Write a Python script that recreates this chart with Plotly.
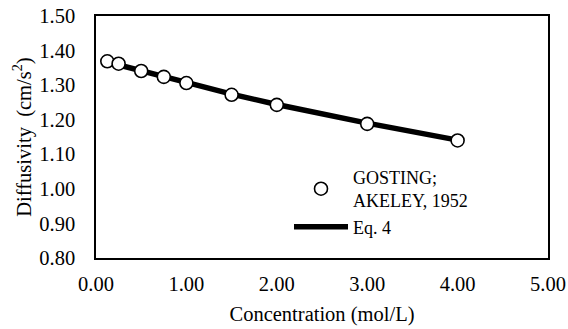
import plotly.graph_objects as go

conc = [0.125, 0.25, 0.5, 0.75, 1.0, 1.5, 2.0, 3.0, 4.0]
diff_exp = [1.369, 1.362, 1.341, 1.324, 1.306, 1.272, 1.243, 1.188, 1.140]
diff_eq4 = [1.367, 1.359, 1.342, 1.325, 1.308, 1.274, 1.244, 1.190, 1.141]

x_ticks = [0, 1, 2, 3, 4, 5]
y_ticks = [0.8, 0.9, 1.0, 1.1, 1.2, 1.3, 1.4, 1.5]

font = "'Times New Roman', 'Liberation Serif', serif"
fsize = 20.5
lsize = 18

fig = go.Figure()
fig.add_trace(go.Scatter(
    x=conc, y=diff_eq4, mode="lines", name="Eq. 4",
    line=dict(color="black", width=5.5),
))
fig.add_trace(go.Scatter(
    x=conc, y=diff_exp, mode="markers", name="GOSTING;<br>AKELEY, 1952",
    marker=dict(symbol="circle", size=13, color="white",
                line=dict(color="black", width=1.6)),
))

fig.update_layout(
    width=568, height=329,
    margin=dict(l=96, r=20, t=16, b=71, autoexpand=False),
    paper_bgcolor="white", plot_bgcolor="white",
    font=dict(family=font, size=fsize, color="black"),
    showlegend=True,
    legend=dict(x=0.427, y=0.41, xanchor="left", yanchor="top",
                traceorder="reversed", bgcolor="rgba(0,0,0,0)",
                font=dict(size=lsize, family=font, color="black"), itemwidth=54,
                tracegroupgap=0),
    xaxis=dict(range=[0, 5], tickvals=x_ticks, automargin=False,
               ticktext=[f"{v:.2f}" for v in x_ticks],
               tickfont=dict(family=font, size=fsize, color="black"),
               showgrid=False, zeroline=False,
               showline=True, linecolor="black", linewidth=1.5, mirror=True,
               ticks="", ticklabelstandoff=7,
               title=dict(text="Concentration (mol/L)", standoff=12,
                          font=dict(family=font, size=fsize, color="black"))),
    yaxis=dict(range=[0.8, 1.5], tickvals=y_ticks, automargin=False,
               ticktext=[f"{v:.2f}" for v in y_ticks],
               tickfont=dict(family=font, size=fsize, color="black"),
               showgrid=False, zeroline=False,
               showline=True, linecolor="black", linewidth=1.5, mirror=True,
               ticks="", ticklabelstandoff=15,
               title=dict(text="Diffusivity  (cm/s<sup>2</sup>)", standoff=2,
                          font=dict(family=font, size=fsize, color="black"))),
)

fig.write_html("out.html")
